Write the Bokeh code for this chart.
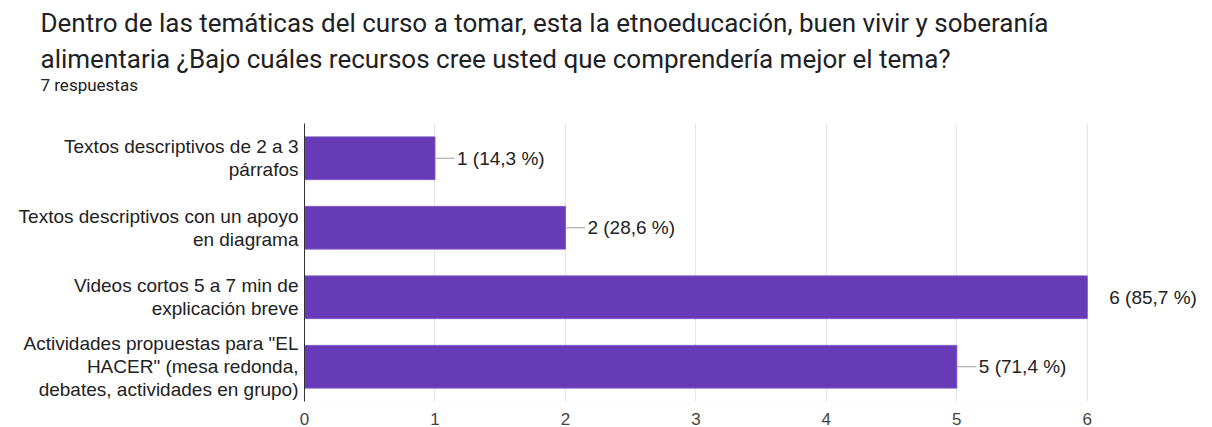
from bokeh.plotting import figure
from bokeh.models import FactorRange, Range1d, Title, LabelSet, ColumnDataSource, FixedTicker, BoxAnnotation
from bokeh.core.properties import value
from bokeh.embed import file_html
from bokeh.resources import INLINE

title_line1 = "Dentro de las temáticas del curso a tomar, esta la etnoeducación, buen vivir y soberanía"
title_line2 = "alimentaria ¿Bajo cuáles recursos cree usted que comprendería mejor el tema?"
subtitle = "7 respuestas"

categories = [
    "Textos descriptivos de 2 a 3\npárrafos",
    "Textos descriptivos con un apoyo\nen diagrama",
    "Videos cortos 5 a 7 min de\nexplicación breve",
    "Actividades propuestas para \"EL\nHACER\" (mesa redonda,\ndebates, actividades en grupo)",
]
counts = [1, 2, 6, 5]
value_labels = ["1 (14,3 %)", "2 (28,6 %)", "6 (85,7 %)", "5 (71,4 %)"]
x_ticks = [0, 1, 2, 3, 4, 5, 6]
x_max = 6

LEADER = 0.15

p = figure(
    width=1212, height=427,
    y_range=FactorRange(factors=list(reversed(categories)), range_padding=0),
    x_range=Range1d(0, 6.96),
    output_backend="svg", toolbar_location=None, title=None,
    min_border_left=304, min_border_right=0, min_border_top=122, min_border_bottom=24,
)

src = ColumnDataSource(dict(cat=categories, n=counts, lab=value_labels,
                            lead=[c + LEADER if c < x_max else c for c in counts]))

p.add_layout(BoxAnnotation(left=0, right=x_max, fill_alpha=0, line_color="#e3e3e3",
                           line_width=1, level="underlay"))

p.hbar(y="cat", left=0, right="n", height=0.615, source=src,
       fill_color="#673ab7", line_color="#7e57c2", line_width=1)
p.segment(x0="n", x1="lead", y0="cat", y1="cat", source=src,
          line_color="#9e9e9e", line_width=1)
p.add_layout(LabelSet(x="n", y="cat", text="lab", source=src, x_offset=22,
                      text_baseline="middle", text_font=value("Liberation Sans"),
                      text_font_size="19px", text_color="#222222"))

p.xaxis.ticker = FixedTicker(ticks=x_ticks)
p.xaxis.axis_line_color = None
p.xaxis.major_tick_line_color = None
p.xaxis.minor_tick_line_color = None
p.xaxis.major_label_text_color = "#444444"
p.xaxis.major_label_text_font = "Liberation Sans"
p.xaxis.major_label_text_font_size = "17px"
p.xaxis.major_label_standoff = 5

p.yaxis.axis_line_color = "#333333"
p.yaxis.axis_line_width = 1
p.yaxis.major_tick_line_color = None
p.yaxis.minor_tick_line_color = None
p.yaxis.major_label_text_color = "#222222"
p.yaxis.major_label_text_font = "Liberation Sans"
p.yaxis.major_label_text_font_size = "19px"
p.yaxis.major_label_text_line_height = 1.1
p.yaxis.major_label_standoff = 0

p.xgrid.grid_line_color = "#e6e6e6"
p.ygrid.grid_line_color = None
p.outline_line_color = None

p.add_layout(Title(text=subtitle, text_font="Roboto", text_font_size="17px",
                   text_font_style="normal", text_color="#202124",
                   align="left", offset=-264, standoff=58), "above")
p.add_layout(Title(text=title_line1 + "\n" + title_line2, text_font="Roboto",
                   text_font_size="26px", text_line_height=1.2,
                   text_font_style="normal", text_color="#202124",
                   align="left", offset=-264, standoff=-60), "above")
p.add_layout(Title(text=" ", text_font="Roboto", text_font_size="1px",
                   align="left", offset=-264, standoff=32), "above")

open("out.html", "w").write(file_html(p, INLINE))
